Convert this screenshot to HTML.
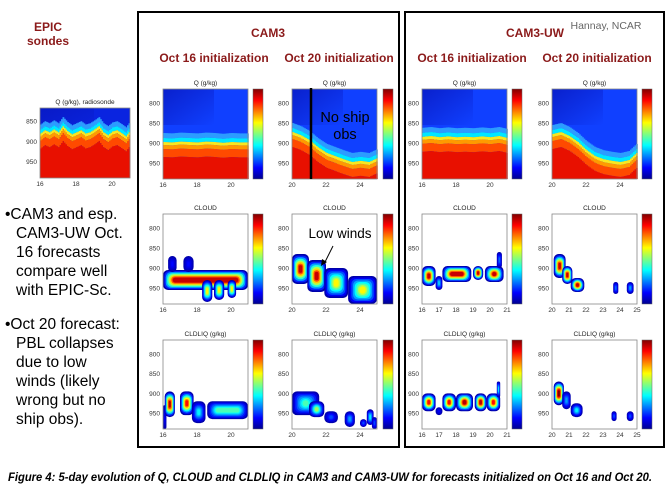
<!DOCTYPE html>
<html><head><meta charset="utf-8"><style>
body{margin:0;background:#fff;}
svg{display:block;font-family:"Liberation Sans",sans-serif;}
</style></head><body>
<svg id="s" width="667" height="500" viewBox="0 0 667 500" xmlns="http://www.w3.org/2000/svg">
<defs>
<linearGradient id="jetv" x1="0" y1="1" x2="0" y2="0">
<stop offset="0" stop-color="#00008f"/><stop offset="0.125" stop-color="#0000ff"/><stop offset="0.375" stop-color="#00ffff"/><stop offset="0.625" stop-color="#ffff00"/><stop offset="0.875" stop-color="#ff0000"/><stop offset="1" stop-color="#800000"/>
</linearGradient>
<linearGradient id="topdark" x1="0" y1="0" x2="1" y2="1">
<stop offset="0" stop-color="#0818c0" stop-opacity="0.8"/><stop offset="1" stop-color="#0818c0" stop-opacity="0"/>
</linearGradient>
</defs>
<rect x="138" y="12" width="261" height="435" fill="none" stroke="#000" stroke-width="2"/>
<rect x="405" y="12" width="259" height="435" fill="none" stroke="#000" stroke-width="2"/>
<text x="48" y="31" font-size="12" font-weight="bold" fill="#8b1a1a" text-anchor="middle">EPIC</text>
<text x="48" y="45" font-size="12" font-weight="bold" fill="#8b1a1a" text-anchor="middle">sondes</text>
<text x="268" y="37" font-size="12" font-weight="bold" fill="#8b1a1a" text-anchor="middle">CAM3</text>
<text x="535" y="37" font-size="12" font-weight="bold" fill="#8b1a1a" text-anchor="middle">CAM3-UW</text>
<text x="606" y="29" font-size="10.5" fill="#666" text-anchor="middle">Hannay, NCAR</text>
<g font-size="12" font-weight="bold" fill="#8b1a1a" text-anchor="middle">
<text x="214" y="62">Oct 16 initialization</text>
<text x="339" y="62">Oct 20 initialization</text>
<text x="472" y="62">Oct 16 initialization</text>
<text x="597" y="62">Oct 20 initialization</text>
</g>
<g font-size="15.5" fill="#000">
<text x="5" y="219">•CAM3 and esp.</text>
<text x="16" y="238">CAM3-UW Oct.</text>
<text x="16" y="257">16 forecasts</text>
<text x="16" y="276">compare well</text>
<text x="16" y="295">with EPIC-Sc.</text>
<text x="5" y="329">•Oct 20 forecast:</text>
<text x="16" y="348">PBL collapses</text>
<text x="16" y="367">due to low</text>
<text x="16" y="386">winds (likely</text>
<text x="16" y="405">wrong but no</text>
<text x="16" y="424">ship obs).</text>
</g>
<text x="8" y="481" font-size="11.5" font-weight="bold" font-style="italic" fill="#000" textLength="644" lengthAdjust="spacingAndGlyphs">Figure 4: 5-day evolution of Q, CLOUD and CLDLIQ in CAM3 and CAM3-UW for forecasts initialized on Oct 16 and Oct 20.</text>
<g id="plots"></g>
<g id="ann">
<line x1="311" y1="88" x2="311" y2="179" stroke="#000" stroke-width="2.5"/>
<text x="345" y="122" font-size="14.5" text-anchor="middle">No ship</text>
<text x="345" y="139" font-size="14.5" text-anchor="middle">obs</text>
<text x="340" y="238" font-size="13.5" text-anchor="middle">Low winds</text>
<path d="M333 246 L324 264" stroke="#000" stroke-width="1" fill="none"/>
<path d="M321 266 L322 259 L327 262 Z" fill="#000"/>
</g>
</svg>
<script>
// ---- data ----
const epicQBoundary=[888,880,885,878,885,870,882,890,885,880,888,885,878,870,885,892,883,880,887,895,880];
const cam3Oct16QBoundary=[905,906,904,905,906,904,905,907,905,906,906];
const cam3Oct20QBoundary=[880,888,900,918,932,940,948,955,952,955,945];
const uwOct16QBoundary=[892,890,893,891,893,892,893,891,893,890,895];
const uwOct20QBoundary=[885,880,890,905,925,940,948,952,955,950,930];
// cloud segments: [dayStart, dayEnd, pTop, pBottom, peakValue]
const cam3Oct16Cloud=[[16,21,905,955,0.9],[16.3,16.8,870,910,0.1],[17.2,17.8,870,910,0.1],[18.3,18.9,930,985,0.6],[19.0,19.6,930,980,0.6],[19.8,20.3,930,975,0.6]];
const cam3Oct20Cloud=[[20,21,865,940,0.9],[20.9,22,880,960,0.9],[21.9,23.3,900,975,0.6],[23.3,25,920,990,0.6]];
const uwOct16Cloud=[[16,16.8,895,945,0.9],[16.8,17.2,920,955,0.3],[17.2,18.9,895,935,0.9],[19,19.6,895,930,0.9],[19.7,20.8,895,935,0.9],[20.4,20.7,860,900,0.2]];
const uwOct20Cloud=[[20.1,20.8,865,925,0.9],[20.6,21.2,895,940,0.9],[21.1,21.9,925,960,0.9],[23.6,23.9,935,965,0.2],[24.4,24.8,935,965,0.25]];
const cam3Oct16Liq=[[16,16.2,930,990,0.05],[16.1,16.7,895,960,0.55],[17.0,17.8,895,955,0.5],[17.7,18.5,920,975,0.2],[18.6,21,920,965,0.25]];
const cam3Oct20Liq=[[20,21.6,895,955,0.25],[21,21.9,920,960,0.3],[21.9,22.7,945,975,0.1],[23.1,23.7,945,985,0.15],[24,24.4,965,985,0.1],[24.4,24.8,940,980,0.2],[24.7,25,960,990,0.1]];
const uwOct16Liq=[[16,16.8,900,945,0.5],[16.8,17.2,935,955,0.05],[17.2,18.0,900,945,0.5],[18,19,900,945,0.55],[19.1,19.8,900,945,0.55],[19.8,20.6,900,945,0.5],[20.4,20.6,870,910,0.2]];
const uwOct20Liq=[[20.1,20.7,870,930,0.6],[20.6,21.1,895,940,0.15],[21.1,21.8,925,960,0.2],[23.5,23.8,945,970,0.1],[24.4,24.8,945,970,0.1]];
const yTicks=[800,850,900,950];
const epicYTicks=[850,900,950];
const xTicks16=[16,18,20], xTicks20=[20,22,24];
const xTicks16d=[16,17,18,19,20,21], xTicks20d=[20,21,22,23,24,25];

const NS="http://www.w3.org/2000/svg";
const root=document.getElementById('plots');
function el(tag,attrs,parent){const e=document.createElementNS(NS,tag);for(const k in attrs)e.setAttribute(k,attrs[k]);(parent||root).appendChild(e);return e;}
function jet(v){v=Math.max(0,Math.min(1,v));const st=[[0,0,0,143],[0.125,0,0,255],[0.375,0,255,255],[0.625,255,255,0],[0.875,255,0,0],[1,128,0,0]];
 for(let i=1;i<st.length;i++){if(v<=st[i][0]){const a=st[i-1],b=st[i],t=(v-a[0])/(b[0]-a[0]);return `rgb(${Math.round(a[1]+t*(b[1]-a[1]))},${Math.round(a[2]+t*(b[2]-a[2]))},${Math.round(a[3]+t*(b[3]-a[3]))})`;}}return 'rgb(128,0,0)';}
function axes(x0,y0,w,h,d0,d1,p0,p1){return {x:d=>x0+(d-d0)/(d1-d0)*w,y:p=>y0+(p-p0)/(p1-p0)*h};}
function frame(name,title,x0,y0,w,h,ax,xt,yt,cb){
 const g=el('g',{});
 
 
 el('rect',{x:x0,y:y0,width:w,height:h,fill:'none',stroke:'#888','stroke-width':0.8},g);
 const t=el('text',{x:x0+w/2,y:y0-4,'font-size':6.5,'text-anchor':'middle',fill:'#222'},g);t.textContent=title;
 xt.forEach(v=>{const tx=el('text',{x:ax.x(v),y:y0+h+8,'font-size':6.5,'text-anchor':'middle',fill:'#333'},g);tx.textContent=v;});
 yt.forEach(v=>{const tx=el('text',{x:x0-3,y:ax.y(v)+2.5,'font-size':6.5,'text-anchor':'end',fill:'#333'},g);tx.textContent=v;});
 if(cb){const c=el('rect',{x:cb,y:y0,width:10,height:h,fill:'url(#jetv)',stroke:'#666','stroke-width':0.5},g);}
}
function qPanel(name,title,x0,y0,w,h,d0,d1,p0,p1,bnd,xt,yt,cb,topCol){
 const ax=axes(x0,y0,w,h,d0,d1,p0,p1);
 const g=el('g',{});
 
 
 el('rect',{x:x0,y:y0,width:w,height:h,fill:topCol||'#1040ff'},g);
 el('rect',{x:x0,y:y0,width:w*0.6,height:h*0.4,fill:'url(#topdark)'},g);
 const n=bnd.length;
 for(let px=0;px<w;px+=1.5){
  const d=d0+(px/w)*(d1-d0);const fi=(d-d0)/(d1-d0)*(n-1);const i=Math.min(n-2,Math.floor(fi));const t=fi-i;
  const p=bnd[i]+(bnd[i+1]-bnd[i])*t;const yb=ax.y(p);const bot=y0+h;
  const segs=[[yb-12,yb-7,'#2c9cff'],[yb-7,yb-3,'#00e8ff'],[yb-3,yb,'#f8e820'],[yb,yb+4,'#ff9a00'],[yb+4,yb+12,'#ff4a00'],[yb+12,bot,'#e81000']];
  segs.forEach(s=>{const a=Math.max(y0,s[0]),b=Math.min(bot,s[1]);if(b>a){el('rect',{x:x0+px,y:a,width:1.8,height:b-a,fill:s[2]},g);}});
 }
 frame(name,title,x0,y0,w,h,ax,xt,yt,cb);
}
function cloudPanel(name,title,x0,y0,w,h,d0,d1,segs,vmax,xt,cb){
 const ax=axes(x0,y0,w,h,d0,d1,765,990);
 const g=el('g',{});
 
 
 el('rect',{x:x0,y:y0,width:w,height:h,fill:'#fff'},g);
 const L=8;
 segs.forEach((s,si)=>{
  const xa=ax.x(Math.max(d0,s[0])),xb=ax.x(Math.min(d1,s[1])),ya=ax.y(s[2]),yb=Math.min(y0+h,ax.y(s[3]));
  const hw=(xb-xa)/2,hh=(yb-ya)/2,pk=s[4]/vmax;
  const mx=Math.min(hw*0.9,hh*1.1),my=hh*0.85;
  const sg=el('g',{},g);
  
  
  for(let k=0;k<L;k++){const f=k/L;const v=0.03+pk*(k/(L-1));
   const ix=f*mx,iy=f*my;
   el('rect',{x:xa+ix,y:ya+iy,width:Math.max(0.5,xb-xa-2*ix),height:Math.max(0.5,yb-ya-2*iy),rx:Math.min(hh-iy,hw-ix,5),fill:jet(v)},sg);}
 });
 frame(name,title,x0,y0,w,h,ax,xt,yTicks,cb);
}
// EPIC
qPanel('epic-q','Q (g/kg), radiosonde',40,108,90,70,16,21,818,990,epicQBoundary,xTicks16,epicYTicks,null,'#0a24e0');
// Q row
qPanel('cam3-oct16-q','Q (g/kg)',163,89,85,90,16,21,765,990,cam3Oct16QBoundary,xTicks16,yTicks,253);
qPanel('cam3-oct20-q','Q (g/kg)',292,89,85,90,20,25,765,990,cam3Oct20QBoundary,xTicks20,yTicks,383);
qPanel('uw-oct16-q','Q (g/kg)',422,89,85,90,16,21,765,990,uwOct16QBoundary,xTicks16,yTicks,512);
qPanel('uw-oct20-q','Q (g/kg)',552,89,85,90,20,25,765,990,uwOct20QBoundary,xTicks20,yTicks,642);
// CLOUD row
cloudPanel('cam3-oct16-cloud','CLOUD',163,214,85,90,16,21,cam3Oct16Cloud,1,xTicks16,253);
cloudPanel('cam3-oct20-cloud','CLOUD',292,214,85,90,20,25,cam3Oct20Cloud,1,xTicks20,383);
cloudPanel('uw-oct16-cloud','CLOUD',422,214,85,90,16,21,uwOct16Cloud,1,xTicks16d,512);
cloudPanel('uw-oct20-cloud','CLOUD',552,214,85,90,20,25,uwOct20Cloud,1,xTicks20d,642);
// CLDLIQ row
cloudPanel('cam3-oct16-cldliq','CLDLIQ (g/kg)',163,340,85,89,16,21,cam3Oct16Liq,0.6,xTicks16,253);
cloudPanel('cam3-oct20-cldliq','CLDLIQ (g/kg)',292,340,85,89,20,25,cam3Oct20Liq,0.6,xTicks20,383);
cloudPanel('uw-oct16-cldliq','CLDLIQ (g/kg)',422,340,85,89,16,21,uwOct16Liq,0.6,xTicks16d,512);
cloudPanel('uw-oct20-cldliq','CLDLIQ (g/kg)',552,340,85,89,20,25,uwOct20Liq,0.6,xTicks20d,642);
document.getElementById('s').appendChild(document.getElementById('ann'));
</script>
</body></html>
